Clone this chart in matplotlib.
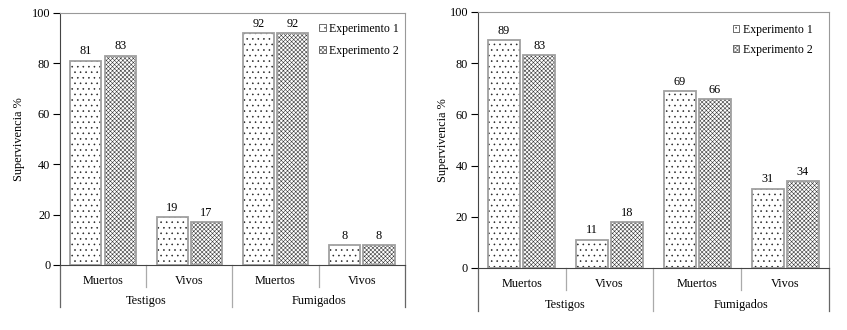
import numpy as np
import matplotlib
matplotlib.use('Agg')
import matplotlib.pyplot as plt
from matplotlib.patches import Patch

plt.rcParams['font.family'] = ['Liberation Serif', 'DejaVu Serif']
plt.rcParams['hatch.linewidth'] = 0.4

categories = ['Muertos', 'Vivos', 'Muertos', 'Vivos']
groups = ['Testigos', 'Fumigados']
series_names = ['Experimento 1', 'Experimento 2']

left_exp1 = [81, 19, 92, 8]
left_exp2 = [83, 17, 92, 8]
right_exp1 = [89, 11, 69, 31]
right_exp2 = [83, 18, 66, 34]

hatches = ['...', 'xxxxxxxx']
hatch_colors = ['#222222', '#3a3a3a']
FS = 8.8


def panel(ax, exp1, exp2, leg_anchor, leg_spacing, ylab_pad):
    x = np.arange(len(categories))
    w = 0.36
    gap = 0.04
    for vals, off, h, hc in [(exp1, -(w + gap) / 2, hatches[0], hatch_colors[0]),
                             (exp2, (w + gap) / 2, hatches[1], hatch_colors[1])]:
        ax.bar(x + off, vals, w, color='white', hatch=h, edgecolor=hc, linewidth=0)
        ax.bar(x + off, vals, w, color='none', edgecolor='#a0a0a0', linewidth=1.3)
        for xi, v in zip(x + off, vals):
            ax.text(xi, v + 1.3, str(v), ha='center', va='bottom', fontsize=FS)
    ax.set_xlim(-0.5, 3.5)
    ax.set_ylim(0, 100)
    ax.set_yticks(range(0, 101, 20))
    ax.tick_params(axis='y', direction='out', length=5, labelsize=FS, width=0.8, pad=2)
    ax.tick_params(axis='x', length=0, labelbottom=False)
    for s in ['top', 'right']:
        ax.spines[s].set_color('#999999')
    ax.spines['left'].set_color('#444444')
    ax.spines['bottom'].set_color('#444444')
    ax.set_ylabel('Supervivencia %', fontsize=FS, labelpad=ylab_pad)
    tr = ax.get_xaxis_transform()
    # category axis lines below the plot
    for b in [-0.5, 3.5]:
        ax.plot([b, b], [0, -0.167], transform=tr, color='#666666', lw=0.9, clip_on=False)
    ax.plot([1.5, 1.5], [0, -0.167], transform=tr, color='#aaaaaa', lw=0.9, clip_on=False)
    for b in [0.5, 2.5]:
        ax.plot([b, b], [0, -0.087], transform=tr, color='#aaaaaa', lw=0.9, clip_on=False)
    for xi, c in zip(x, categories):
        ax.text(xi, -0.038, c, transform=tr, ha='center', va='top', fontsize=FS)
    for gi, g in enumerate(groups):
        ax.text(gi * 2 + 0.5, -0.12, g, transform=tr, ha='center', va='top', fontsize=FS)
    handles = [Patch(facecolor='white', edgecolor='#555555', hatch=h, linewidth=0.6) for h in hatches]
    ax.legend(handles, series_names, loc='upper left', frameon=False, fontsize=FS - 0.3,
              handlelength=0.55, handleheight=0.55, handletextpad=0.3,
              labelspacing=leg_spacing, borderpad=0, borderaxespad=0,
              bbox_to_anchor=leg_anchor)


fig = plt.figure(figsize=(8.47, 3.30), dpi=100)
ax1 = fig.add_axes([0.0708, 0.197, 0.478 - 0.0708, 0.961 - 0.197])
ax2 = fig.add_axes([0.564, 0.188, 0.979 - 0.564, 0.964 - 0.188])
panel(ax1, left_exp1, left_exp2, (0.752, 0.96), 0.85, 5)
panel(ax2, right_exp1, right_exp2, (0.726, 0.953), 0.65, 0)
fig.savefig('out.png', dpi=100)
